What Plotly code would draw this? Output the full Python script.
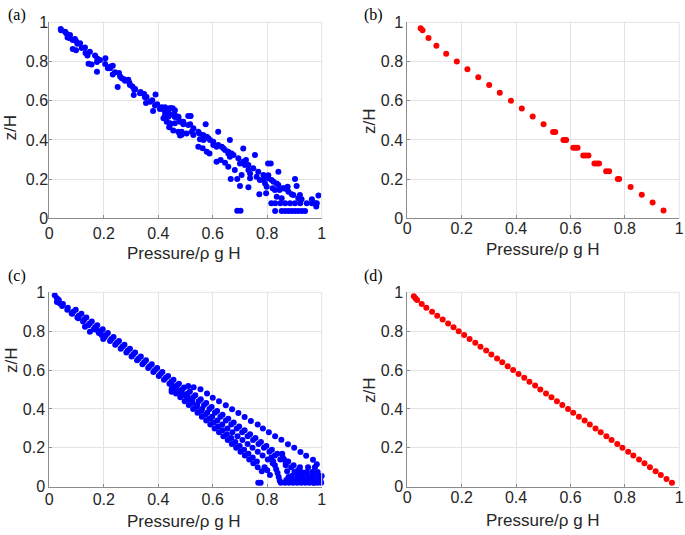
import plotly.graph_objects as go

# ---------------- data ----------------
tick_vals = [0, 0.2, 0.4, 0.6, 0.8, 1]
tick_text = ["0", "0.2", "0.4", "0.6", "0.8", "1"]

# panel (a) - blue scatter
a_x = [0.042, 0.043, 0.062, 0.067, 0.076, 0.086, 0.098, 0.103, 0.086, 0.098, 0.119, 0.133, 0.140, 0.144, 0.155,
       0.176, 0.175, 0.175, 0.206, 0.215, 0.225, 0.233, 0.233, 0.251, 0.256, 0.266, 0.274, 0.290, 0.294, 0.305,
       0.312, 0.310, 0.335, 0.348, 0.357, 0.355, 0.378, 0.390, 0.381, 0.396, 0.416, 0.430, 0.446, 0.461,
       0.058, 0.076, 0.094, 0.113, 0.131, 0.149, 0.168, 0.186, 0.205, 0.223, 0.241, 0.260, 0.278, 0.296, 0.315,
       0.333, 0.351, 0.370, 0.388, 0.406, 0.425, 0.443, 0.461,
       0.419, 0.431, 0.443, 0.440, 0.455, 0.474, 0.480, 0.486,
       0.413, 0.425, 0.441, 0.453, 0.425, 0.437, 0.461, 0.474, 0.510, 0.519, 0.443, 0.461, 0.480, 0.492, 0.517,
       0.574, 0.474, 0.486, 0.504, 0.523, 0.529, 0.551, 0.553, 0.566, 0.578, 0.590, 0.547, 0.563, 0.578, 0.588,
       0.602, 0.614, 0.620, 0.633, 0.645, 0.657, 0.663, 0.614, 0.629, 0.645, 0.657, 0.663, 0.669, 0.681, 0.666,
       0.690, 0.706, 0.712, 0.700, 0.718, 0.731, 0.737, 0.722, 0.755, 0.700, 0.731, 0.737, 0.761, 0.773, 0.771,
       0.792, 0.798, 0.786, 0.803, 0.813, 0.796, 0.804, 0.816, 0.820, 0.796, 0.835, 0.841, 0.828, 0.845, 0.859,
       0.871, 0.875, 0.902, 0.908, 0.890, 0.920, 0.926,
       0.815, 0.829, 0.848, 0.866, 0.884, 0.902, 0.921, 0.945, 0.964, 0.976, 0.835, 0.853, 0.964, 0.988,
       0.829, 0.853, 0.866, 0.878, 0.890, 0.902, 0.914, 0.927, 0.939, 0.690, 0.702, 0.982, 0.980,
       0.419, 0.437, 0.455, 0.474, 0.492, 0.510, 0.529, 0.547, 0.565, 0.584, 0.602, 0.620, 0.639, 0.657, 0.676,
       0.694, 0.712, 0.731, 0.749, 0.767, 0.786, 0.804, 0.823, 0.841, 0.859, 0.878, 0.896, 0.914]
a_z = [0.966, 0.959, 0.944, 0.923, 0.918, 0.910, 0.904, 0.890, 0.864, 0.857, 0.869, 0.843, 0.831, 0.789, 0.785,
       0.815, 0.798, 0.748, 0.817, 0.765, 0.775, 0.778, 0.734, 0.670, 0.741, 0.714, 0.709, 0.707, 0.692, 0.673,
       0.656, 0.629, 0.645, 0.634, 0.619, 0.588, 0.602, 0.632, 0.547, 0.582, 0.561, 0.556, 0.561, 0.551,
       0.952, 0.935, 0.915, 0.893, 0.872, 0.850, 0.830, 0.808, 0.787, 0.765, 0.745, 0.723, 0.702, 0.680, 0.660,
       0.638, 0.617, 0.595, 0.575, 0.558, 0.544, 0.530, 0.517,
       0.510, 0.493, 0.476, 0.465, 0.448, 0.440, 0.423, 0.426,
       0.566, 0.566, 0.561, 0.561, 0.527, 0.518, 0.527, 0.518, 0.522, 0.522, 0.485, 0.485, 0.493, 0.480, 0.480,
       0.480, 0.442, 0.442, 0.433, 0.442, 0.425, 0.433, 0.403, 0.400, 0.416, 0.400, 0.365, 0.357, 0.340, 0.331,
       0.374, 0.365, 0.442, 0.365, 0.348, 0.331, 0.400, 0.289, 0.297, 0.284, 0.263, 0.314, 0.331, 0.246, 0.201,
       0.201, 0.221, 0.356, 0.280, 0.272, 0.246, 0.229, 0.297, 0.323, 0.165, 0.158, 0.204, 0.212, 0.195, 0.123,
       0.178, 0.161, 0.195, 0.280, 0.280, 0.215, 0.220, 0.195, 0.153, 0.128, 0.178, 0.238, 0.144, 0.144, 0.153,
       0.148, 0.161, 0.201, 0.165, 0.123, 0.119, 0.097,
       0.077, 0.077, 0.077, 0.077, 0.077, 0.077, 0.077, 0.077, 0.077, 0.077, 0.110, 0.102, 0.097, 0.116,
       0.037, 0.037, 0.037, 0.037, 0.037, 0.037, 0.037, 0.037, 0.037, 0.039, 0.039, 0.077, 0.060,
       0.556, 0.544, 0.527, 0.510, 0.493, 0.476, 0.459, 0.442, 0.425, 0.408, 0.391, 0.374, 0.357, 0.340, 0.323,
       0.306, 0.289, 0.272, 0.255, 0.238, 0.221, 0.204, 0.187, 0.170, 0.153, 0.136, 0.119, 0.102]

# panel (b) - red
b_x = [0.049, 0.056, 0.078, 0.107, 0.143, 0.182, 0.221, 0.261, 0.301, 0.340, 0.381, 0.421, 0.461, 0.501,
       0.536, 0.544, 0.574, 0.579, 0.584, 0.610, 0.618, 0.626, 0.647, 0.656, 0.666, 0.688, 0.697, 0.705,
       0.731, 0.742, 0.774, 0.779, 0.821, 0.862, 0.902, 0.942]
b_z = [0.97, 0.96, 0.92, 0.88, 0.84, 0.80, 0.76, 0.72, 0.68, 0.64, 0.60, 0.56, 0.52, 0.48,
       0.44, 0.44, 0.40, 0.40, 0.40, 0.36, 0.36, 0.36, 0.32, 0.32, 0.32, 0.28, 0.28, 0.28,
       0.24, 0.24, 0.20, 0.20, 0.16, 0.12, 0.08, 0.04]

# panel (c) - blue scatter
c_main_x = [0.020, 0.028, 0.035, 0.050, 0.068, 0.088, 0.108, 0.128, 0.148, 0.168, 0.188, 0.208, 0.228, 0.248,
            0.268, 0.288, 0.308, 0.328, 0.348, 0.368, 0.388, 0.408, 0.428, 0.448, 0.468, 0.488, 0.508, 0.528,
            0.548, 0.568, 0.588, 0.608, 0.628, 0.648, 0.668, 0.688, 0.708, 0.728, 0.748, 0.768, 0.788, 0.808,
            0.828, 0.848, 0.868, 0.888, 0.908, 0.928, 0.950, 0.972]
c_main_z = [0.985, 0.97, 0.96, 0.94, 0.92, 0.90, 0.88, 0.86, 0.84, 0.82, 0.80, 0.78, 0.76, 0.74,
            0.72, 0.70, 0.68, 0.66, 0.64, 0.62, 0.60, 0.58, 0.56, 0.54, 0.52, 0.50, 0.48, 0.46,
            0.44, 0.42, 0.40, 0.38, 0.36, 0.34, 0.32, 0.30, 0.28, 0.26, 0.24, 0.22, 0.20, 0.18,
            0.16, 0.14, 0.12, 0.10, 0.08, 0.06, 0.04, 0.02]
c_left_x = [0.028, 0.047, 0.066, 0.084, 0.103, 0.124, 0.143, 0.163, 0.182, 0.203, 0.223, 0.242, 0.262, 0.283,
            0.302, 0.322, 0.342, 0.363, 0.382, 0.402, 0.421, 0.441, 0.460, 0.480, 0.500, 0.519]
c_left_z = [0.95, 0.93, 0.91, 0.89, 0.87, 0.85, 0.83, 0.81, 0.79, 0.77, 0.75, 0.73, 0.71, 0.69,
            0.67, 0.65, 0.63, 0.61, 0.59, 0.57, 0.55, 0.53, 0.51, 0.49, 0.47, 0.45]
c_right_x = [0.097, 0.118, 0.136, 0.156, 0.176, 0.196, 0.215, 0.236, 0.256, 0.276, 0.296, 0.315, 0.336, 0.355,
             0.376, 0.396, 0.415, 0.436, 0.456, 0.476, 0.495, 0.516, 0.536, 0.556, 0.576, 0.596, 0.616, 0.636,
             0.657, 0.677, 0.697, 0.717, 0.737, 0.757, 0.777, 0.797, 0.817, 0.837, 0.857, 0.877, 0.897, 0.917,
             0.937, 0.957, 0.978]
c_right_z = [0.91, 0.89, 0.87, 0.85, 0.83, 0.81, 0.79, 0.77, 0.75, 0.73, 0.71, 0.69, 0.67, 0.65,
             0.63, 0.61, 0.59, 0.57, 0.55, 0.53, 0.51, 0.49, 0.47, 0.45, 0.43, 0.41, 0.39, 0.37,
             0.35, 0.33, 0.31, 0.29, 0.27, 0.25, 0.23, 0.21, 0.19, 0.17, 0.15, 0.13, 0.11, 0.09,
             0.07, 0.05, 0.03]
c_upper_x = [0.510, 0.530, 0.555, 0.579, 0.600, 0.623, 0.648, 0.671, 0.694, 0.717, 0.740, 0.765, 0.784,
             0.806, 0.829, 0.852, 0.876, 0.899, 0.922, 0.943, 0.968, 0.982]
c_upper_z = [0.518, 0.512, 0.501, 0.480, 0.458, 0.439, 0.419, 0.398, 0.379, 0.359, 0.338, 0.320, 0.299,
             0.280, 0.260, 0.241, 0.219, 0.200, 0.179, 0.159, 0.138, 0.116]
c_lower_x = [0.449, 0.465, 0.481, 0.497, 0.512, 0.528, 0.544, 0.560, 0.576, 0.591, 0.607, 0.623, 0.639,
             0.655, 0.670, 0.686, 0.702, 0.718, 0.734, 0.749, 0.765, 0.780,
             0.462, 0.478, 0.494, 0.510, 0.525, 0.541, 0.557, 0.573, 0.589, 0.604, 0.620, 0.636, 0.652,
             0.668, 0.683, 0.699, 0.715, 0.731, 0.747, 0.762]
c_lower_z = [0.50, 0.48, 0.46, 0.44, 0.42, 0.40, 0.38, 0.36, 0.34, 0.32, 0.30, 0.28, 0.26,
             0.24, 0.22, 0.20, 0.18, 0.16, 0.14, 0.12, 0.10, 0.08,
             0.51, 0.49, 0.47, 0.45, 0.43, 0.41, 0.39, 0.37, 0.35, 0.33, 0.31, 0.29, 0.27,
             0.25, 0.23, 0.21, 0.19, 0.17, 0.15, 0.13]
c_mid_x = [0.450, 0.469, 0.487, 0.506, 0.524, 0.543, 0.561, 0.580, 0.598, 0.617, 0.635, 0.654, 0.672,
           0.691, 0.709, 0.728, 0.746, 0.765, 0.783, 0.802, 0.820]
c_mid_z = [0.52, 0.50, 0.48, 0.46, 0.44, 0.42, 0.40, 0.38, 0.36, 0.34, 0.32, 0.30, 0.28,
           0.26, 0.24, 0.22, 0.20, 0.18, 0.16, 0.14, 0.12]
c_bottom_x = [0.815, 0.822, 0.828, 0.833, 0.838, 0.842, 0.846, 0.855, 0.862, 0.868, 0.873, 0.878, 0.882,
              0.850, 0.865, 0.880, 0.895, 0.910, 0.925, 0.940, 0.955, 0.970, 0.985, 0.998,
              0.870, 0.890, 0.905, 0.920, 0.935, 0.950, 0.965, 0.980, 0.995,
              0.890, 0.910, 0.930, 0.950, 0.970, 0.990, 1.000,
              0.900, 0.925, 0.945, 0.965, 0.985, 0.920, 0.950, 0.975,
              0.767, 0.776, 0.790, 0.800, 0.810]
c_bottom_z = [0.15, 0.13, 0.11, 0.09, 0.07, 0.05, 0.03, 0.17, 0.14, 0.11, 0.08, 0.05, 0.03,
              0.02, 0.02, 0.02, 0.02, 0.02, 0.02, 0.02, 0.02, 0.02, 0.02, 0.02,
              0.035, 0.035, 0.035, 0.035, 0.035, 0.035, 0.035, 0.035, 0.035,
              0.055, 0.055, 0.055, 0.055, 0.055, 0.055, 0.055,
              0.075, 0.075, 0.075, 0.075, 0.075, 0.10, 0.10, 0.10,
              0.02, 0.02, 0.10, 0.085, 0.06]
c_stray_x = [0.149, 0.174, 0.198, 0.192, 0.131, 0.107, 0.082, 0.039, 0.449]
c_stray_z = [0.797, 0.806, 0.760, 0.780, 0.823, 0.866, 0.892, 0.943, 0.489]

# panel (d) - red
d_x = [0.024, 0.030, 0.036, 0.053, 0.070, 0.091, 0.110, 0.130, 0.150, 0.170, 0.189, 0.209, 0.229, 0.250,
       0.269, 0.290, 0.309, 0.330, 0.349, 0.369, 0.389, 0.409, 0.430, 0.449, 0.470, 0.489, 0.510, 0.530,
       0.550, 0.570, 0.591, 0.610, 0.631, 0.652, 0.671, 0.692, 0.711, 0.732, 0.751, 0.772, 0.791, 0.812,
       0.831, 0.852, 0.872, 0.892, 0.913, 0.932, 0.953, 0.973]
d_z = [0.98, 0.97, 0.96, 0.94, 0.92, 0.90, 0.88, 0.86, 0.84, 0.82, 0.80, 0.78, 0.76, 0.74,
       0.72, 0.70, 0.68, 0.66, 0.64, 0.62, 0.60, 0.58, 0.56, 0.54, 0.52, 0.50, 0.48, 0.46,
       0.44, 0.42, 0.40, 0.38, 0.36, 0.34, 0.32, 0.30, 0.28, 0.26, 0.24, 0.22, 0.20, 0.18,
       0.16, 0.14, 0.12, 0.10, 0.08, 0.06, 0.04, 0.02]

panel_labels = ["(a)", "(b)", "(c)", "(d)"]
x_title = "Pressure/\u03c1 g H"
y_title = "z/H"

# ---------------- figure ----------------
W, H = 685, 535
BLUE, RED = "#0000ff", "#ff0000"
c_x = c_main_x + c_left_x + c_right_x + c_upper_x + c_lower_x + c_mid_x + c_bottom_x + c_stray_x
c_z = c_main_z + c_left_z + c_right_z + c_upper_z + c_lower_z + c_mid_z + c_bottom_z + c_stray_z

fig = go.Figure()
series = [(a_x, a_z, BLUE, "x", "y"), (b_x, b_z, RED, "x2", "y2"),
          (c_x, c_z, BLUE, "x3", "y3"), (d_x, d_z, RED, "x4", "y4")]
for xs, zs, col, xa, ya in series:
    fig.add_trace(go.Scatter(x=xs, y=zs, mode="markers", xaxis=xa, yaxis=ya,
                             marker=dict(color=col, size=6, line=dict(width=0)),
                             cliponaxis=False, showlegend=False, hoverinfo="skip"))

# pixel boxes of plot areas: (left, right, top, bottom)
boxes = [(49.3, 321.7, 22.3, 218.3), (407.3, 679.3, 22.3, 218.3),
         (49.3, 321.7, 292.3, 486.7), (407.3, 679.3, 292.3, 486.7)]
xstand = [0, -5, -2, -4]
ystand = [-3, 0, 0, 0]
tickfont = dict(family="Liberation Sans, Arial, sans-serif", size=16, color="#262626")
layout = dict(width=W, height=H, margin=dict(l=0, r=0, t=0, b=0, pad=0, autoexpand=False),
              paper_bgcolor="white", plot_bgcolor="white", showlegend=False)
for i, (l, r, t, b) in enumerate(boxes):
    sfx = "" if i == 0 else str(i + 1)
    common = dict(range=[0, 1], tickvals=tick_vals, ticktext=tick_text, showgrid=True,
                  gridcolor="#e3e3e3", gridwidth=1, showline=True, linecolor="#8c8c8c", linewidth=1,
                  ticks="inside", ticklen=3, tickcolor="#8c8c8c", zeroline=False,
                  tickfont=tickfont, fixedrange=True, automargin=False)
    layout["xaxis" + sfx] = dict(common, domain=[l / W, r / W], anchor="y" + sfx,
                                 ticklabelstandoff=xstand[i])
    layout["yaxis" + sfx] = dict(common, domain=[1 - b / H, 1 - t / H], anchor="x" + sfx,
                                 ticklabelstandoff=ystand[i])
fig.update_layout(**layout)

# top / right light frame lines
shapes = []
for i, (l, r, t, b) in enumerate(boxes):
    shapes.append(dict(type="line", xref="paper", yref="paper", x0=l / W, x1=r / W,
                       y0=1 - t / H, y1=1 - t / H, line=dict(color="#e3e3e3", width=1)))
    shapes.append(dict(type="line", xref="paper", yref="paper", x0=r / W, x1=r / W,
                       y0=1 - t / H, y1=1 - b / H, line=dict(color="#e3e3e3", width=1)))
fig.update_layout(shapes=shapes)

ann = []
lab_pos = [(17, 15), (373, 15), (17, 276), (373, 276)]
xt_pos = [(184, 254), (542.5, 249), (184, 521), (542.5, 520)]
yt_pos = [(10.5, 128), (369, 121), (11, 360), (369, 390)]
afont = dict(family="Liberation Sans, Arial, sans-serif", size=17, color="#262626")
for i in range(4):
    ann.append(dict(text=panel_labels[i], x=lab_pos[i][0] / W, y=1 - lab_pos[i][1] / H,
                    xref="paper", yref="paper", showarrow=False, xanchor="center", yanchor="middle",
                    font=dict(family="Liberation Serif, Times New Roman, serif", size=16, color="black")))
    ann.append(dict(text=x_title, x=xt_pos[i][0] / W, y=1 - xt_pos[i][1] / H,
                    xref="paper", yref="paper", showarrow=False, xanchor="center", yanchor="middle",
                    font=afont))
    ann.append(dict(text=y_title, x=yt_pos[i][0] / W, y=1 - yt_pos[i][1] / H, textangle=-90,
                    xref="paper", yref="paper", showarrow=False, xanchor="center", yanchor="middle",
                    font=afont))
fig.update_layout(annotations=ann)

fig.write_html("out.html", config={"displayModeBar": False},
               post_script="document.body.style.margin='0';document.body.style.overflow='hidden';")
